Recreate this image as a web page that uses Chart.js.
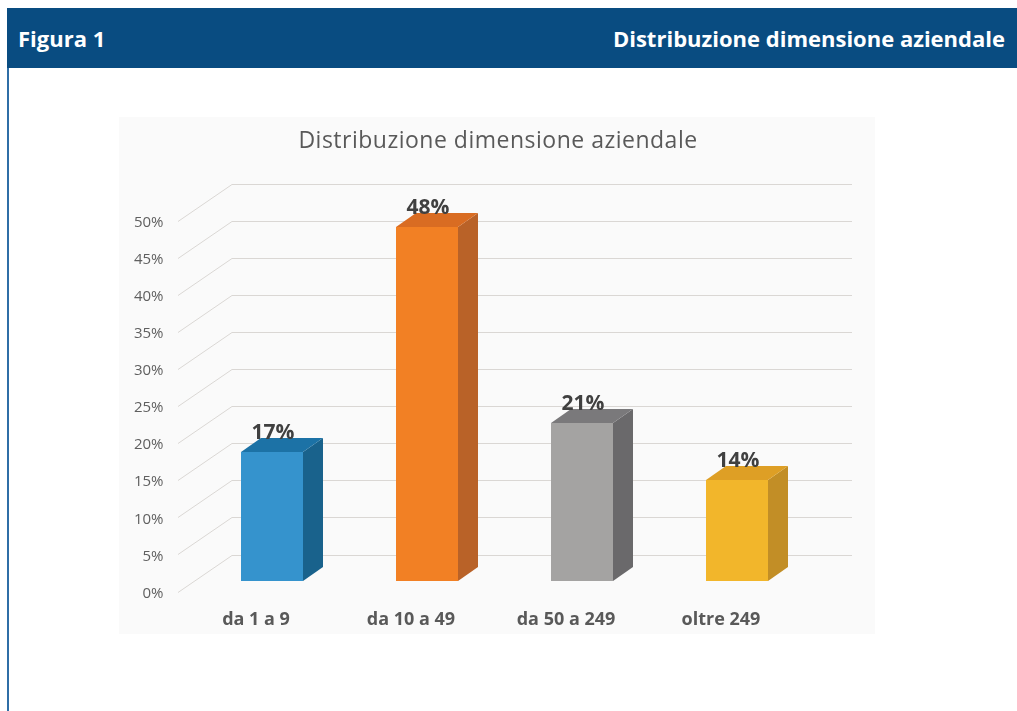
<!DOCTYPE html>
<html><head><meta charset="utf-8">
<script src="https://cdn.jsdelivr.net/npm/chart.js@4.4.0/dist/chart.umd.min.js"></script>
<style>
html,body{margin:0;padding:0;background:#fff;width:1017px;height:711px;overflow:hidden;}
#header{position:absolute;left:7px;top:8px;width:1010px;height:60px;background:#094c81;color:#fff;font-family:"Open Sans",sans-serif;font-weight:bold;font-size:22px;}
#header .l{position:absolute;left:11px;top:15px;line-height:30px;}
#header .r{position:absolute;right:12px;top:15px;line-height:30px;}
#border{position:absolute;left:7px;top:68px;width:2px;height:643px;background:#2f6ea6;}
#panel{position:absolute;left:119px;top:117px;width:756px;height:517px;background:#fafafa;}
#c{position:absolute;left:0;top:0;}
</style>
</head><body>
<div id="header"><span class="l">Figura 1</span><span class="r">Distribuzione dimensione aziendale</span></div>
<div id="border"></div>
<div id="panel"></div>
<canvas id="c" width="1017" height="711"></canvas>
<script>
const categories = ['da 1 a 9', 'da 10 a 49', 'da 50 a 249', 'oltre 249'];
const shares = [17.4, 47.7, 21.3, 13.6];
const yTicks = [0, 5, 10, 15, 20, 25, 30, 35, 40, 45, 50];
const chartTitle = 'Distribuzione dimensione aziendale';

const frontColors = ['#3593cd', '#f28024', '#a4a3a2', '#f2b62b'];
const sideColors  = ['#19628c', '#b96228', '#6a696b', '#c28e26'];
const topColors   = ['#1c72a6', '#d96c22', '#7a797b', '#de9f25'];
const FONT = '"Open Sans", sans-serif';
const DX = 20, DY = -14;

const threeD = {
  id: 'threeD',
  beforeDatasetsDraw(chart) {
    const {ctx, chartArea: a, scales: {y}} = chart;
    ctx.save();
    // chart title
    ctx.fillStyle = '#595959';
    ctx.font = '23px ' + FONT;
    ctx.textAlign = 'center';
    ctx.textBaseline = 'middle';
    try { ctx.letterSpacing = '0.5px'; } catch (e) {}
    ctx.fillText(chartTitle, 498, 141);
    try { ctx.letterSpacing = '0px'; } catch (e) {}
    // 3D gridlines
    ctx.strokeStyle = '#dad7d4';
    ctx.lineWidth = 1;
    yTicks.forEach(v => {
      const p = y.getPixelForValue(v);
      const yF = Math.round(p + 10.5) + 0.5, yB = yF - 37;
      ctx.beginPath();
      ctx.moveTo(a.left - 16.5, yF);
      ctx.lineTo(a.left + 37.5, yB);
      ctx.lineTo(a.right + 37.5, yB);
      ctx.stroke();
    });
    ctx.restore();
  },
  afterDatasetsDraw(chart) {
    const ctx = chart.ctx;
    const meta = chart.getDatasetMeta(0);
    ctx.save();
    meta.data.forEach((bar, i) => {
      const {x, y, base, width} = bar.getProps(['x', 'y', 'base', 'width'], true);
      const l = x - width / 2, r = x + width / 2;
      ctx.fillStyle = sideColors[i];
      ctx.beginPath();
      ctx.moveTo(r, y); ctx.lineTo(r + DX, y + DY); ctx.lineTo(r + DX, base + DY); ctx.lineTo(r, base);
      ctx.closePath(); ctx.fill();
      ctx.fillStyle = topColors[i];
      ctx.beginPath();
      ctx.moveTo(l, y); ctx.lineTo(l + DX, y + DY); ctx.lineTo(r + DX, y + DY); ctx.lineTo(r, y);
      ctx.closePath(); ctx.fill();
    });
    meta.data.forEach((bar, i) => {
      const {x, y} = bar.getProps(['x', 'y'], true);
      ctx.fillStyle = '#404040';
      ctx.font = 'bold 21px ' + FONT;
      ctx.textAlign = 'center';
      ctx.textBaseline = 'middle';
      ctx.fillText(Math.round(shares[i]) + '%', x + 1, y - 19);
    });
    ctx.restore();
  }
};

new Chart(document.getElementById('c'), {
  type: 'bar',
  data: {
    labels: categories,
    datasets: [{
      data: shares,
      backgroundColor: frontColors,
      borderWidth: 0,
      barPercentage: 0.4,
      categoryPercentage: 1
    }]
  },
  options: {
    responsive: false,
    animation: false,
    layout: {padding: {left: 109.5, right: 202.5, top: 210, bottom: 80}},
    plugins: {
      legend: {display: false},
      tooltip: {enabled: false},
      title: {display: false}
    },
    scales: {
      x: {
        grid: {display: false},
        border: {display: false},
        ticks: {
          labelOffset: -16,
          padding: 20,
          color: '#595959',
          font: {family: FONT, size: 18, weight: 'bold'}
        },
        afterFit: s => { s.height = 50; }
      },
      y: {
        min: 0, max: 50,
        grid: {display: false},
        border: {display: false},
        afterBuildTicks: s => { s.ticks = yTicks.map(v => ({value: v})); },
        ticks: {
          labelOffset: 12.5,
          padding: 23,
          color: '#5f5f5f',
          font: {family: FONT, size: 15},
          callback: v => v + '%'
        },
        afterFit: s => { s.width = 85; }
      }
    }
  },
  plugins: [threeD]
});
</script>
</body></html>
